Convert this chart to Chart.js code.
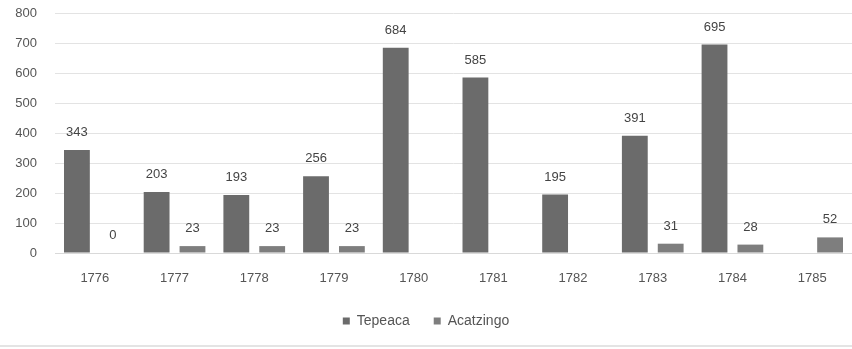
<!DOCTYPE html>
<html><head><meta charset="utf-8">
<script src="https://cdn.jsdelivr.net/npm/chart.js@4/dist/chart.umd.min.js"></script>
<style>html,body{margin:0;padding:0;background:#fff;}#wrap{width:852px;height:349px;position:relative;}</style>
</head><body><div id="wrap"><canvas id="c" width="852" height="349"></canvas></div>
<script>
const categories = ["1776","1777","1778","1779","1780","1781","1782","1783","1784","1785"];
const tepeaca = [343, 203, 193, 256, 684, 585, 195, 391, 695, null];
const acatzingo = [0, 23, 23, 23, null, null, null, 31, 28, 52];
const seriesNames = ["Tepeaca", "Acatzingo"];
const yTicks = [0, 100, 200, 300, 400, 500, 600, 700, 800];

const FONT = "'Liberation Sans', Arial, sans-serif";

const valueLabels = {
  id: 'valueLabels',
  afterDatasetsDraw(chart) {
    const ctx = chart.ctx;
    ctx.save();
    ctx.font = "13px " + FONT;
    ctx.fillStyle = "#444";
    ctx.textAlign = "center";
    ctx.textBaseline = "bottom";
    chart.data.datasets.forEach((ds, i) => {
      const meta = chart.getDatasetMeta(i);
      meta.data.forEach((bar, j) => {
        const v = ds.data[j];
        if (v === null || v === undefined) return;
        ctx.fillText(String(v), bar.x, bar.y - 11);
      });
    });
    ctx.restore();
  },
  afterDraw(chart) {
    const ctx = chart.ctx;
    ctx.save();
    ctx.strokeStyle = "#e4e4e4";
    ctx.lineWidth = 2;
    ctx.beginPath();
    ctx.moveTo(0, 346);
    ctx.lineTo(852, 346);
    ctx.stroke();
    ctx.restore();
  }
};

new Chart(document.getElementById('c'), {
  type: 'bar',
  data: {
    labels: categories,
    datasets: [
      { label: seriesNames[0], data: tepeaca, backgroundColor: '#6b6b6b', categoryPercentage: 0.9, barPercentage: 0.72 },
      { label: seriesNames[1], data: acatzingo, backgroundColor: '#7e7e7e', categoryPercentage: 0.9, barPercentage: 0.72 }
    ]
  },
  options: {
    responsive: false,
    animation: false,
    devicePixelRatio: 1,
    layout: { padding: { top: 13, right: 0, bottom: 11, left: 0 } },
    plugins: {
      legend: {
        position: 'bottom',
        labels: { boxWidth: 7, boxHeight: 7, padding: 24, color: '#555', font: { family: FONT, size: 14 } }
      },
      tooltip: { enabled: false }
    },
    scales: {
      x: {
        grid: { display: false, drawTicks: false },
        border: { display: true, color: '#d9d9d9', width: 1 },
        ticks: { color: '#555', font: { family: FONT, size: 13 }, padding: 18, maxRotation: 0 },
        afterFit(s) { s.height = 37; }
      },
      y: {
        min: 0, max: 800,
        afterBuildTicks(s) { s.ticks = yTicks.map(v => ({ value: v })); },
        grid: { color: '#e3e3e3', drawTicks: false },
        border: { display: false },
        ticks: { color: '#555', font: { family: FONT, size: 13 }, padding: 18 },
        afterFit(s) { s.width = 55; s.paddingTop = 0; }
      }
    }
  },
  plugins: [valueLabels]
});
</script>
</body></html>
